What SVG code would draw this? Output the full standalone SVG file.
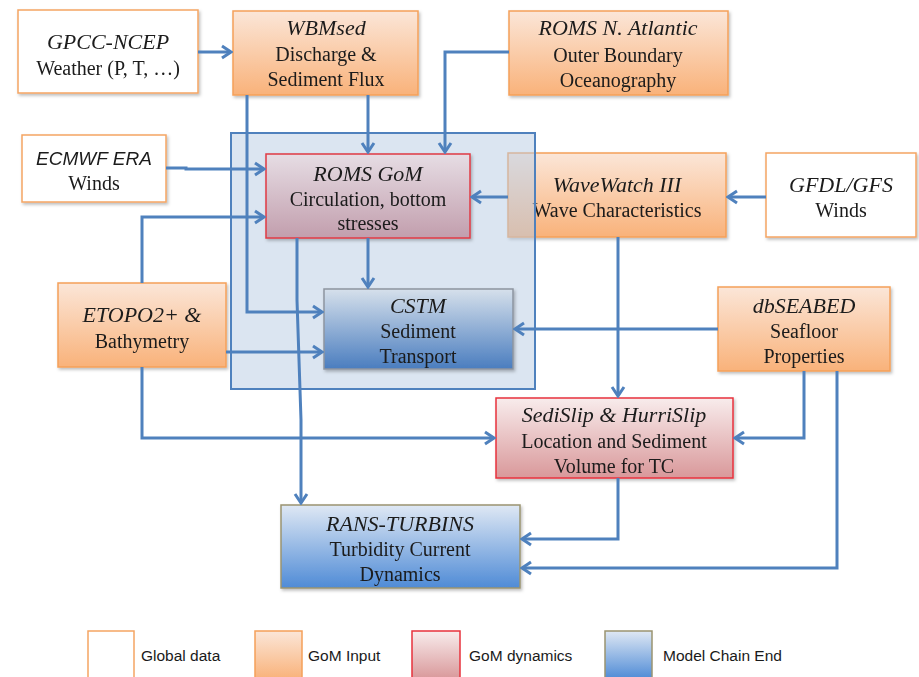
<svg xmlns="http://www.w3.org/2000/svg" width="919" height="677" viewBox="0 0 919 677">
<style>
.t{font-family:"Liberation Serif",serif;font-size:20px;fill:#1a1a1a;text-anchor:middle}
.ti{font-family:"Liberation Serif",serif;font-size:22px;font-style:italic;fill:#1a1a1a;text-anchor:middle}
.ts{font-family:"Liberation Sans",sans-serif;font-size:19px;font-style:italic;fill:#1a1a1a;text-anchor:middle}
.lg{font-family:"Liberation Sans",sans-serif;font-size:15.5px;fill:#1a1a1a}
.glob{fill:#ffffff;stroke:#f5a563;stroke-width:1.5}
.inp{fill:url(#gOr);stroke:#f5a05a;stroke-width:1.5}
.dyn{fill:url(#gRd);stroke:#e8323c;stroke-width:1.5}
.end{fill:url(#gBl);stroke:#9a9470;stroke-width:1.5}
.box{filter:url(#sh)}
.c{fill:none;stroke:#4f81bd;stroke-width:3;marker-end:url(#ar)}
</style>
<defs>
<linearGradient id="gOr" x1="0" y1="0" x2="0" y2="1"><stop offset="0" stop-color="#fbe6d8"/><stop offset="1" stop-color="#f9b27a"/></linearGradient>
<linearGradient id="gRd" x1="0" y1="0" x2="0" y2="1"><stop offset="0" stop-color="#f8ecec"/><stop offset="1" stop-color="#d9989a"/></linearGradient>
<linearGradient id="gBl" x1="0" y1="0" x2="0" y2="1"><stop offset="0" stop-color="#dfe8f4"/><stop offset="1" stop-color="#4f8bd6"/></linearGradient>
<linearGradient id="gRdT" x1="0" y1="0" x2="0" y2="1"><stop offset="0" stop-color="#e6dde4"/><stop offset="1" stop-color="#c29ead"/></linearGradient>
<linearGradient id="gBlT" x1="0" y1="0" x2="0" y2="1"><stop offset="0" stop-color="#d6e0eb"/><stop offset="1" stop-color="#4a7dbf"/></linearGradient>
<filter id="sh" x="-10%" y="-10%" width="130%" height="130%"><feDropShadow dx="1.5" dy="2" stdDeviation="1.5" flood-color="#000" flood-opacity="0.25"/></filter>
<marker id="ar" viewBox="-11 -8 13 16" markerWidth="13" markerHeight="16" refX="0" refY="0" orient="auto" markerUnits="userSpaceOnUse"><path d="M-9,-6 L0,0 L-9,6" fill="none" stroke="#4f81bd" stroke-width="3"/></marker>
</defs>
<rect width="919" height="677" fill="#ffffff"/>

<g id="gpcc-ncep" class="box"><rect class="glob" x="18" y="10" width="180" height="83"/>
<text class="ti" x="108" y="49">GPCC-NCEP</text><text class="t" x="108" y="75">Weather (P, T, …)</text></g>

<g id="wbmsed" class="box"><rect class="inp" x="233" y="11" width="185" height="84"/>
<text class="ti" x="326" y="35">WBMsed</text><text class="t" x="326" y="61">Discharge &amp;</text><text class="t" x="326" y="86">Sediment Flux</text></g>

<g id="roms-n-atlantic" class="box"><rect class="inp" x="509" y="11" width="219" height="84"/>
<text class="ti" x="618" y="35">ROMS N. Atlantic</text><text class="t" x="618" y="62">Outer Boundary</text><text class="t" x="618" y="87">Oceanography</text></g>

<g id="ecmwf-era" class="box"><rect class="glob" x="22" y="135" width="144" height="67"/>
<text class="ts" x="94" y="165">ECMWF ERA</text><text class="t" x="94" y="190">Winds</text></g>

<g id="wavewatch" class="box"><rect class="inp" x="508" y="153" width="218" height="84"/>
<text class="ti" x="617" y="192">WaveWatch III</text><text class="t" x="617" y="217">Wave Characteristics</text></g>

<g id="gfdl-gfs" class="box"><rect class="glob" x="766" y="153" width="150" height="84"/>
<text class="ti" x="841" y="192">GFDL/GFS</text><text class="t" x="841" y="217">Winds</text></g>

<g id="etopo2" class="box"><rect class="inp" x="58" y="283" width="168" height="84"/>
<text class="ti" x="142" y="322">ETOPO2+ &amp;</text><text class="t" x="142" y="348">Bathymetry</text></g>

<g id="dbseabed" class="box"><rect class="inp" x="718" y="287" width="172" height="84"/>
<text class="ti" x="804" y="313">dbSEABED</text><text class="t" x="804" y="338">Seafloor</text><text class="t" x="804" y="363">Properties</text></g>

<g id="sedislip-hurrislip" class="box"><rect class="dyn" x="496" y="398" width="237" height="80"/>
<text class="ti" x="614" y="422">SediSlip &amp; HurriSlip</text><text class="t" x="614" y="448">Location and Sediment</text><text class="t" x="614" y="473">Volume for TC</text></g>

<g id="rans-turbins" class="box"><rect class="end" x="281" y="505" width="239" height="83"/>
<text class="ti" x="400" y="531">RANS-TURBINS</text><text class="t" x="400" y="556">Turbidity Current</text><text class="t" x="400" y="581">Dynamics</text></g>

<g id="gom-model-region">
<path d="M231,133 H535 V389 H231 Z M266,154 V238 H470 V154 Z M324,289 V369 H513 V289 Z" fill="#b8cce4" fill-opacity="0.5" fill-rule="evenodd"/>
<rect x="231" y="133" width="304" height="256" fill="none" stroke="#4f81bd" stroke-width="2"/>
</g>

<g id="roms-gom" class="box"><rect x="266" y="154" width="204" height="84" fill="url(#gRdT)" stroke="#e03a44" stroke-width="1.5"/>
<text class="ti" x="368" y="181">ROMS GoM</text><text class="t" x="368" y="206">Circulation, bottom</text><text class="t" x="368" y="230">stresses</text></g>

<g id="cstm" class="box"><rect x="324" y="289" width="189" height="80" fill="url(#gBlT)" stroke="#8d95a0" stroke-width="1.5"/>
<text class="ti" x="418" y="313">CSTM</text><text class="t" x="418" y="338">Sediment</text><text class="t" x="418" y="363">Transport</text></g>

<g id="connectors">
<path class="c" d="M198,52 H231"/>
<path class="c" d="M247,95 V312 H322"/>
<path class="c" d="M368,95 V152"/>
<path class="c" d="M509,52 H445 V152"/>
<path class="c" d="M166,168 H186 V169 H264"/>
<path class="c" d="M142,283 V217 H264"/>
<path class="c" d="M226,352 H322"/>
<path class="c" d="M142,367 V438 H494"/>
<path class="c" d="M297,238 V300 L301,420 V503"/>
<path class="c" d="M368,238 V287"/>
<path class="c" d="M508,197 H472"/>
<path class="c" d="M766,197 H728"/>
<path class="c" d="M618,237 V396"/>
<path class="c" d="M718,329 H515"/>
<path class="c" d="M804,371 V438 H735"/>
<path class="c" d="M618,478 V539 H522"/>
<path class="c" d="M837,371 V568 H522"/>
</g>

<g id="legend">
<rect class="glob" x="88" y="631" width="46" height="48"/><text class="lg" x="141" y="661">Global data</text>
<rect class="inp" x="255" y="631" width="47" height="48"/><text class="lg" x="308" y="661">GoM Input</text>
<rect class="dyn" x="412" y="631" width="48" height="48"/><text class="lg" x="469" y="661">GoM dynamics</text>
<rect class="end" x="605" y="631" width="47" height="48"/><text class="lg" x="663" y="661">Model Chain End</text>
</g>
</svg>
